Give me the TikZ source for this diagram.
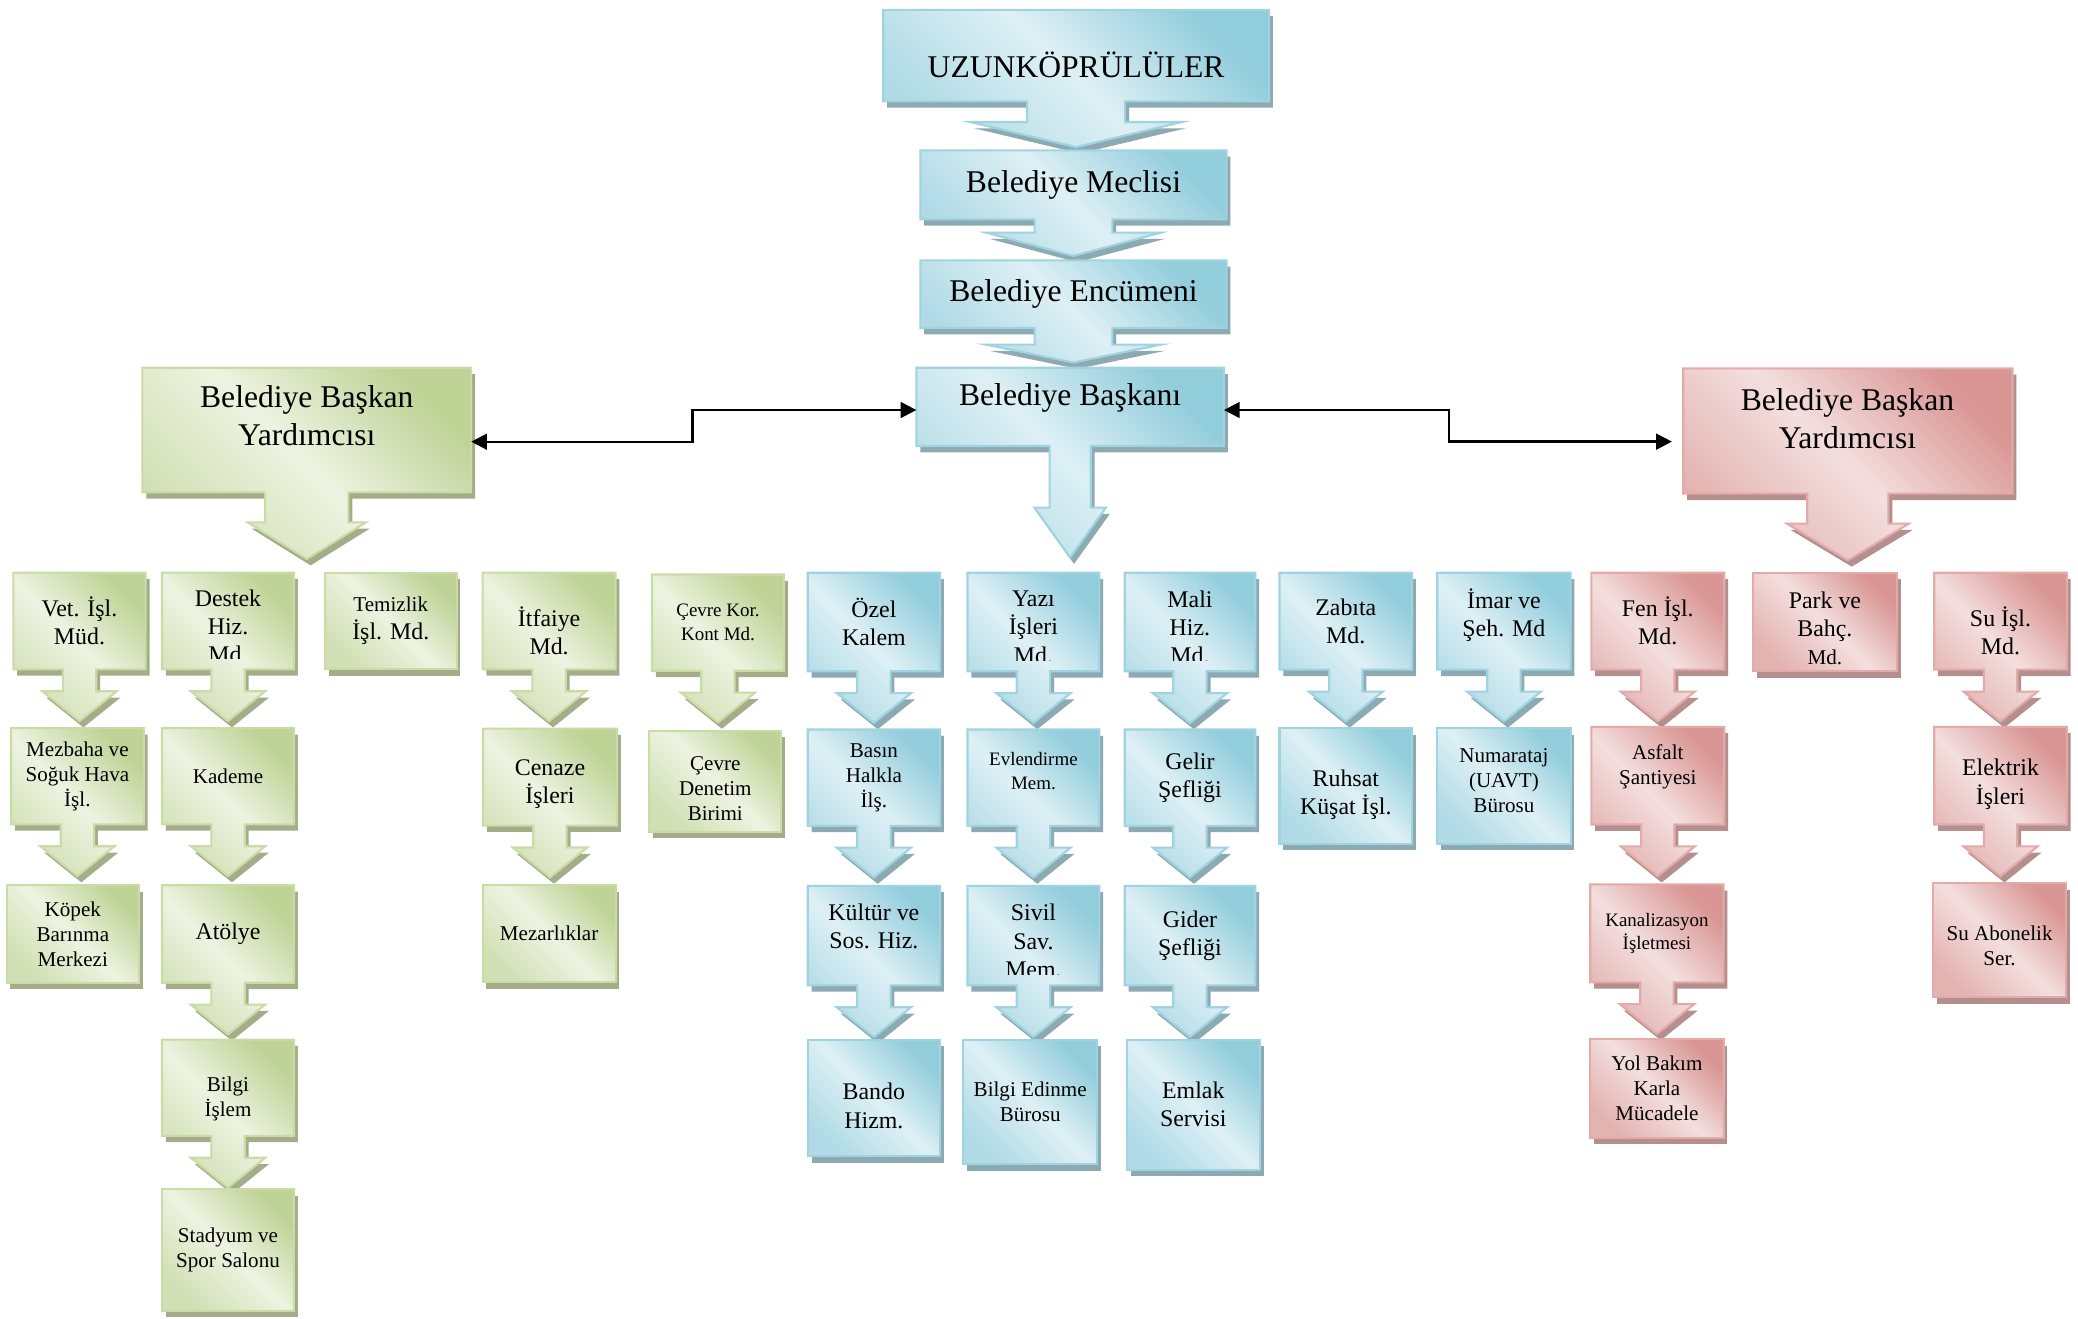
\documentclass[tikz,border=0pt]{standalone}
\usepackage{fontspec}
\setmainfont{Liberation Serif}
\usetikzlibrary{calc,shadows,backgrounds,arrows.meta}

\definecolor{glight}{HTML}{EDF3E1}
\definecolor{gdark}{HTML}{BFD396}
\definecolor{gline}{HTML}{C9DCA6}
\definecolor{gshad}{HTML}{A4AC8A}
\definecolor{blight}{HTML}{DEF0F5}
\definecolor{bdark}{HTML}{92CDDC}
\definecolor{bline}{HTML}{9FD3E1}
\definecolor{bshad}{HTML}{8DA9B1}
\definecolor{rlight}{HTML}{F3DFDE}
\definecolor{rdark}{HTML}{D99694}
\definecolor{rline}{HTML}{E2AAA8}
\definecolor{rshad}{HTML}{B48F8E}

\newcommand{\fbig}{\fontsize{9}{10.8}\selectfont}
\newcommand{\fmed}{\fontsize{6.8}{8}\selectfont}
\newcommand{\fsml}{\fontsize{6}{7.1}\selectfont}
\newcommand{\ftin}{\fontsize{5.4}{6.7}\selectfont}

\tikzset{
  box/.style={inner sep=0pt, align=center, font=\fmed},
  sz/.style 2 args={minimum width=#1*0.013253cm, minimum height=#2*0.013253cm},
  gcard/.style={top color=gdark, bottom color=gdark!60!glight, middle color=glight, shading angle=-45,
    draw=gline, line width=0.6pt, drop shadow={shadow xshift=1.1pt, shadow yshift=-1.8pt, fill=gshad, opacity=1}},
  bcard/.style={top color=bdark, bottom color=bdark!60!blight, middle color=blight, shading angle=-45,
    draw=bline, line width=0.6pt, drop shadow={shadow xshift=1.1pt, shadow yshift=-1.8pt, fill=bshad, opacity=1}},
  rcard/.style={top color=rdark, bottom color=rdark!60!rlight, middle color=rlight, shading angle=-45,
    draw=rline, line width=0.6pt, drop shadow={shadow xshift=1.1pt, shadow yshift=-1.8pt, fill=rshad, opacity=1}},
  link/.style={{Triangle[length=4.5pt,width=4.5pt]}-{Triangle[length=4.5pt,width=4.5pt]}, line width=0.65pt},
}

% box with a down arrow: style, node, stem half width, head half width, stem length, head length
\newcommand{\callout}[6]{%
  \path[#1] (#2.north west) -- (#2.north east) -- (#2.south east)
    -- ($(#2.south)+(#3,0)$) -- ($(#2.south)+(#3,#5)$) -- ($(#2.south)+(#4,#5)$)
    -- ($(#2.south)+(0,#5+#6)$) -- ($(#2.south)+(-#4,#5)$) -- ($(#2.south)+(-#3,#5)$)
    -- ($(#2.south)+(-#3,0)$) -- (#2.south west) -- cycle;}
\newcommand{\plaincard}[2]{\path[#1] (#2.north west) rectangle (#2.south east);}

\begin{document}
\begin{tikzpicture}[x=0.013253cm, y=-0.013253cm]
  \useasboundingbox (0,0) rectangle (1568,995);

  \node[box, sz={290}{68}] (uzun) at (812,42) {};
  \node[box, font=\fbig] (uzunt) at (812,49) {UZUNKÖPRÜLÜLER};
  \node[box, font=\fbig, sz={230}{51}] (mec) at (810,139.5) {Belediye Meclisi};
  \node[box, font=\fbig, sz={230}{50}] (enc) at (810,222) {Belediye Encümeni};
  \node[box, sz={231}{58}] (bsk) at (807.5,307) {};
  \node[box, font=\fbig] (bskt) at (807.5,300) {Belediye Başkanı};
  \node[box, sz={247}{93}] (lvp) at (231.5,324.5) {};
  \node[box, font=\fbig] (lvpt) at (231.5,314) {Belediye Başkan\\Yardımcısı};
  \node[box, sz={247.4}{93.5}] (rvp) at (1394.3,325.25) {};
  \node[box, font=\fbig] (rvpt) at (1394,316) {Belediye Başkan\\Yardımcısı};

  \node[box, sz={98.8}{72}] (vet) at (60,468.6) {Vet. İşl.\\Müd.};
  \node[box, sz={98.5}{72}] (dest) at (172.05,468.6) {};
  \node[box, sz={98.3}{72}] (tem) at (294.85,468.6) {{\fsml Temizlik}\\İşl. Md.};
  \node[box, sz={99.3}{72}] (itf) at (414.35,468.6) {};
  \node[box, font=\ftin, sz={98.5}{71.6}] (cevk) at (541.75,469.8) {Çevre Kor.\\Kont Md.};
  \node[box, sz={98.8}{73.3}] (ozel) at (659.4,469.35) {Özel\\Kalem};
  \node[box, sz={98.4}{73.3}] (yazi) at (779.8,469.35) {};
  \node[box, sz={97.4}{73.3}] (mali) at (897.9,469.35) {};
  \node[box, sz={99}{72.1}] (zab) at (1015.5,468.75) {Zabıta\\Md.};
  \node[box, sz={99.6}{72.1}] (imar) at (1134.8,468.75) {};
  \node[box, sz={99.2}{72.1}] (fen) at (1250.9,468.75) {Fen İşl.\\Md.};
  \node[box, sz={108}{73}] (park) at (1377,469.5) {};
  \node[box, sz={99}{72.1}] (su) at (1509.5,468.75) {};

  \node[box, font=\fsml, sz={99.2}{71.5}] (mezb) at (58.4,585.75) {Mezbaha ve\\Soğuk Hava\\İşl.};
  \node[box, font=\fsml, sz={98.5}{71.5}] (kad) at (172.05,585.75) {Kademe};
  \node[box, sz={100}{72.2}] (cen) at (415,586.4) {};
  \node[box, sz={98.5}{75}] (cevd) at (539.75,589.5) {};
  \node[box, font=\fsml, sz={98.8}{71.6}] (basin) at (659.4,586.8) {Basın\\Halkla\\İlş.};
  \node[box, sz={98.4}{71.6}] (evl) at (779.8,586.8) {};
  \node[box, sz={97.4}{71.6}] (gel) at (897.9,586.8) {Gelir\\Şefliği};
  \node[box, sz={99}{86}] (ruh) at (1015.5,593) {};
  \node[box, sz={99.6}{86}] (num) at (1134.8,593) {};
  \node[box, sz={99.2}{72.6}] (asf) at (1250.9,585.3) {};
  \node[box, sz={99}{72.6}] (elek) at (1509.5,585.3) {};

  \node[box, font=\fsml, sz={98.9}{72.5}] (kopek) at (54.95,704.75) {Köpek\\Barınma\\Merkezi};
  \node[box, sz={98.5}{72.5}] (atol) at (172.05,704.75) {Atölye};
  \node[box, font=\fsml, sz={99.3}{72.2}] (mezar) at (414.35,704.6) {Mezarlıklar};
  \node[box, sz={98.8}{74}] (kult) at (659.4,706) {};
  \node[box, sz={98.4}{74}] (sivil) at (779.8,706) {};
  \node[box, sz={97.4}{74}] (gider) at (897.9,706) {Gider\\Şefliği};
  \node[box, font=\ftin, sz={99.5}{72.9}] (kanal) at (1250.25,704.25) {Kanalizasyon\\İşletmesi};
  \node[box, font=\fsml, sz={99}{85}] (suab) at (1508.8,709.5) {};

  \node[box, sz={98.5}{71.6}] (bilgi) at (172.05,820.8) {};
  \node[box, sz={98.8}{87}] (bando) at (659.4,828.5) {};
  \node[box, font=\fsml, sz={99.9}{93}] (edin) at (777.35,831.5) {Bilgi Edinme\\Bürosu};
  \node[box, sz={99.2}{97}] (emlak) at (900.4,833.5) {Emlak\\Servisi};
  \node[box, font=\fsml, sz={99.5}{73.3}] (yol) at (1250.25,821.35) {Yol Bakım\\Karla\\Mücadele};
  \node[box, font=\fsml, sz={98.5}{90.6}] (stad) at (172.05,943.3) {Stadyum ve\\Spor Salonu};

  \node[box] (itft) at ($(itf)+(0,7.5)$) {İtfaiye\\Md.};
  \node[box] (imart) at ($(imar)+(0,-4.5)$) {İmar ve\\Şeh. Md};
  \node[box] (parkt) at ($(park)+(0,4.5)$) {Park ve\\Bahç.\\{\fsml Md.}};
  \node[box] (sut) at ($(su)+(0,7)$) {Su İşl.\\Md.};
  \node[box] (cent) at ($(cen)+(0,5.5)$) {Cenaze\\İşleri};
  \node[box, font=\fsml] (cevdt) at ($(cevd)+(0,5.3)$) {Çevre\\Denetim\\Birimi};
  \node[box, font=\ftin] (evlt) at ($(evl)+(0,-5)$) {Evlendirme\\Mem.};
  \node[box] (ruht) at ($(ruh)+(0,7)$) {Ruhsat\\Küşat İşl.};
  \node[box, font=\fsml] (numt) at ($(num)+(0,-4)$) {Numarataj\\(UAVT)\\Bürosu};
  \node[box, font=\fsml] (asft) at ($(asf)+(0,-7)$) {Asfalt\\Şantiyesi};
  \node[box] (elekt) at ($(elek)+(0,6.5)$) {Elektrik\\İşleri};
  \node[box] (kultt) at ($(kult)+(0,-7)$) {Kültür ve\\Sos. Hiz.};
  \node[box, font=\fsml] (suabt) at ($(suab)+(0,4)$) {Su Abonelik\\Ser.};
  \node[box, font=\fsml] (bilgit) at ($(bilgi)+(0,8.6)$) {Bilgi\\İşlem};
  \node[box] (bandot) at ($(bando)+(0,6)$) {Bando\\Hizm.};

  \begin{scope}
    \clip (dest.north west) rectangle ($(dest.south east)+(0,-8)$);
    \node[box] (destt) at ($(dest)+(0,4)$) {Destek\\Hiz.\\Md.};
  \end{scope}
  \begin{scope}
    \clip (yazi.north west) rectangle ($(yazi.south east)+(0,-8)$);
    \node[box] (yazit) at ($(yazi)+(0,4)$) {Yazı\\İşleri\\Md.};
  \end{scope}
  \begin{scope}
    \clip (mali.north west) rectangle ($(mali.south east)+(0,-8)$);
    \node[box] (malit) at ($(mali)+(0,4)$) {Mali\\Hiz.\\Md.};
  \end{scope}
  \begin{scope}
    \clip (sivil.north west) rectangle ($(sivil.south east)+(0,-8)$);
    \node[box] (sivilt) at ($(sivil)+(0,4)$) {Sivil\\Sav.\\Mem.};
  \end{scope}

  \draw[link] ($(lvp.east)+(0,8.8)$) -- ++(167,0) |- ($(bsk.west)+(0,2.4)$);
  \draw[link, shorten >=3.2pt] ($(bsk.east)+(0,2.4)$) -- ++(170,0) |- ($(rvp.west)+(0,8)$);

  \begin{scope}[on background layer]
    \callout{bcard}{uzun}{37}{80}{15.5}{19}
    \callout{bcard}{mec}{29.3}{66}{10}{17.6}
    \callout{bcard}{enc}{29.3}{66}{12.5}{13.5}
    \callout{bcard}{bsk}{15.5}{27}{46.5}{37.7}
    \callout{gcard}{lvp}{31.4}{44.6}{22.6}{27.7}
    \callout{rcard}{rvp}{30.6}{46}{22.6}{27.7}
    \foreach \n in {vet,dest,itf,cevk,mezb,kad,cen,atol,bilgi}
      {\callout{gcard}{\n}{12.6}{28}{16.5}{22.5}}
    \foreach \n in {ozel,yazi,mali,zab,imar,basin,evl,gel,kult,sivil,gider}
      {\callout{bcard}{\n}{12.6}{28}{16.5}{22.5}}
    \foreach \n in {fen,asf,kanal,su,elek}
      {\callout{rcard}{\n}{12.6}{28}{16.5}{22.5}}
    \foreach \n in {tem,cevd,kopek,mezar,stad}
      {\plaincard{gcard}{\n}}
    \foreach \n in {ruh,num,bando,edin,emlak}
      {\plaincard{bcard}{\n}}
    \foreach \n in {park,yol,suab}
      {\plaincard{rcard}{\n}}
  \end{scope}
\end{tikzpicture}
\end{document}
